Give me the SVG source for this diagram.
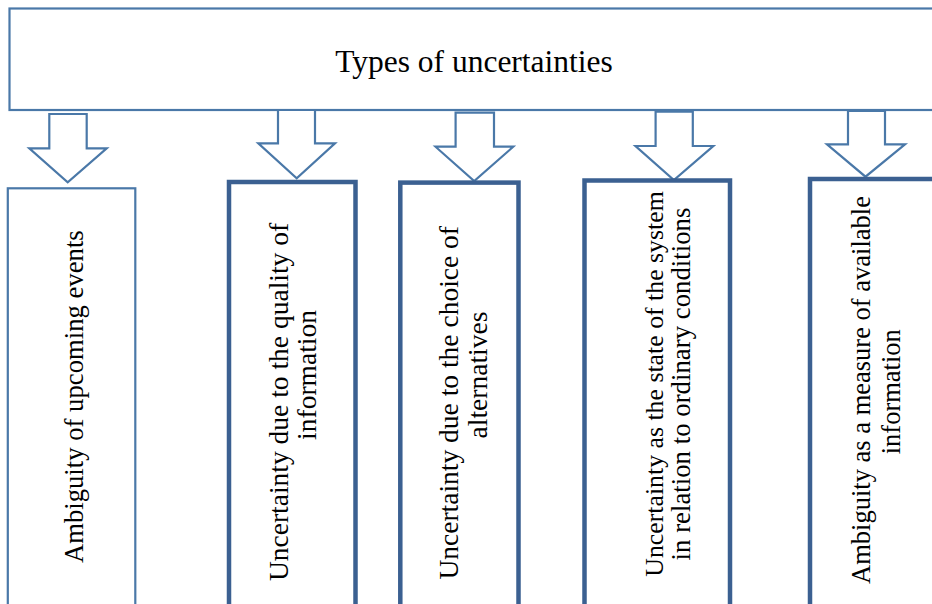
<svg xmlns="http://www.w3.org/2000/svg" width="932" height="604" viewBox="0 0 932 604">
<style>
.thin{fill:#fff;stroke:#4a78a8;stroke-width:2.2}
.thick{fill:#fff;stroke:#3b6091;stroke-width:4.5}
.arrow{fill:#fff;stroke:#4a78a8;stroke-width:2.2;stroke-linejoin:miter}
.t{font-family:'Liberation Serif','Times New Roman',Times,'DejaVu Serif',serif;fill:#000}
.v{text-anchor:middle}
</style>
<rect width="932" height="604" fill="#fff"/>
<g id="title">
<rect class="thin" x="9.5" y="8.5" width="940" height="101.5" stroke-width="2.6"/>
<text class="t" font-family="Liberation Serif, serif" x="474" y="71.5" font-size="31.5" text-anchor="middle">Types of uncertainties</text>
</g>
<g id="connectors">
<polygon class="arrow" points="49.3,114 86.7,114 86.7,148.3 106.7,148.3 67.7,182.3 29.3,148.3 49.3,148.3"/>
<polygon class="arrow" points="278,110 315,110 315,143.3 335,143.3 296.7,178.3 258.3,143.3 278,143.3"/>
<polygon class="arrow" points="455.6,112.7 494,112.7 494,146.7 513.3,146.7 474.2,181 435.5,146.7 455.6,146.7"/>
<polygon class="arrow" points="655.6,111.7 692.8,111.7 692.8,146 713.3,146 673.9,180 635.5,146 655.6,146"/>
<polygon class="arrow" points="848,111 885,111 885,144.3 905,144.3 865.5,176.7 827,144.3 848,144.3"/>
</g>
<g id="node1">
<rect class="thin" x="7.8" y="188.3" width="127.5" height="430"/>
<text class="t v" font-family="Liberation Serif, serif" font-size="26.7" transform="translate(83,396.7) rotate(-90)">Ambiguity of upcoming events</text>
</g>
<g id="node2">
<rect class="thick" x="229" y="182" width="126.5" height="430"/>
<text class="t v" font-family="Liberation Serif, serif" font-size="27.5" transform="translate(288,402) rotate(-90)">Uncertainty due to the quality of</text>
<text class="t v" font-family="Liberation Serif, serif" font-size="27.5" transform="translate(315.5,375) rotate(-90)">information</text>
</g>
<g id="node3">
<rect class="thick" x="400.3" y="182.6" width="118.2" height="430"/>
<text class="t v" font-family="Liberation Serif, serif" font-size="27.5" transform="translate(457.5,402.8) rotate(-90)">Uncertainty due to the choice of</text>
<text class="t v" font-family="Liberation Serif, serif" font-size="27.5" transform="translate(486.5,375) rotate(-90)">alternatives</text>
</g>
<g id="node4">
<rect class="thick" x="584.5" y="180.5" width="145.5" height="430"/>
<text class="t v" font-family="Liberation Serif, serif" font-size="25.8" transform="translate(663,384) rotate(-90)">Uncertainty as the state of the system</text>
<text class="t v" font-family="Liberation Serif, serif" font-size="26.8" transform="translate(690,384) rotate(-90)">in relation to ordinary conditions</text>
</g>
<g id="node5">
<rect class="thick" x="810" y="179" width="140" height="430"/>
<text class="t v" font-family="Liberation Serif, serif" font-size="26.5" transform="translate(870,390) rotate(-90)">Ambiguity as a measure of available</text>
<text class="t v" font-family="Liberation Serif, serif" font-size="26.5" transform="translate(899.5,391.7) rotate(-90)">information</text>
</g>
</svg>
